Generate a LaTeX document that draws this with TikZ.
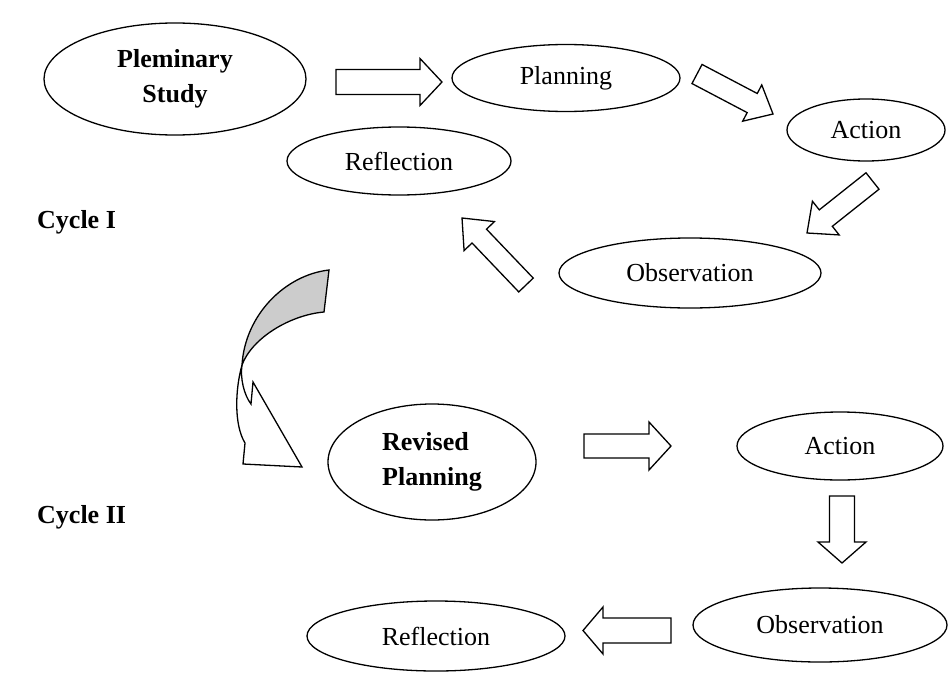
\documentclass[tikz,border=0pt]{standalone}
\usepackage{fontspec}
\setmainfont{Liberation Serif}
\usetikzlibrary{calc,shapes.geometric}
\tikzset{
  ell/.style={draw, line width=1.3pt, ellipse, inner sep=0pt, font=\fontsize{26}{35}\selectfont},
  barrow/.style={draw, line width=1.3pt, fill=white, line join=miter},
  lbl/.style={font=\fontsize{26}{35}\selectfont\bfseries, anchor=base west, inner sep=0pt}
}
% block arrow: tail, tip, half shaft width, half head width, head length (all in pt)
\newcommand\blockarr[5]{%
  \coordinate (nk) at ($(#2)!#5pt!(#1)$);
  \draw[barrow]
    ($(#1)!#3pt!90:(#2)$) --
    ($(nk)!#3pt!90:(#2)$) --
    ($(nk)!#4pt!90:(#2)$) --
    (#2) --
    ($(nk)!#4pt!-90:(#2)$) --
    ($(nk)!#3pt!-90:(#2)$) --
    ($(#1)!#3pt!-90:(#2)$) -- cycle;}
\begin{document}
\begin{tikzpicture}[x=1pt,y=-1pt]
\useasboundingbox (0,0) rectangle (949,677);

% ellipses
\node[ell, minimum width=262pt, minimum height=112pt, align=center, font=\fontsize{26}{35}\selectfont\bfseries] (ps) at (175,79) {Pleminary\\Study};
\node[ell, minimum width=228pt, minimum height=67pt] (pl) at (566,78) {Planning};
\node[ell, minimum width=158pt, minimum height=62pt] (ac1) at (866,130) {Action};
\node[ell, minimum width=224pt, minimum height=68pt] (re1) at (399,161) {Reflection};
\node[ell, minimum width=262pt, minimum height=70pt] (ob1) at (690,273) {Observation};
\node[ell, minimum width=208pt, minimum height=116pt, align=left, font=\fontsize{26}{35}\selectfont\bfseries] (rp) at (432,462) {Revised\\Planning};
\node[ell, minimum width=206pt, minimum height=68pt] (ac2) at (840,446) {Action};
\node[ell, minimum width=254pt, minimum height=74pt] (ob2) at (820,625) {Observation};
\node[ell, minimum width=258pt, minimum height=70pt] (re2) at (436,636) {Reflection};

% labels
\node[lbl] (c1) at (37,228) {Cycle I};
\node[lbl] (c2) at (37,523) {Cycle II};

% arrow end points
\coordinate (a1t) at (336,82);   \coordinate (a1h) at (442,82);
\coordinate (a2t) at (697,74);   \coordinate (a2h) at (773,114);
\coordinate (a3t) at (872.5,181); \coordinate (a3h) at (807,233);
\coordinate (a4t) at (526,285);  \coordinate (a4h) at (462,218);
\coordinate (a5t) at (584,446);  \coordinate (a5h) at (671,446);
\coordinate (a6t) at (842,496);  \coordinate (a6h) at (842,563);
\coordinate (a7t) at (671,630.5); \coordinate (a7h) at (583,630.5);

\blockarr{a1t}{a1h}{12.5}{23.5}{22}
\blockarr{a2t}{a2h}{10.8}{20.5}{23.5}
\blockarr{a3t}{a3h}{10.5}{21.5}{24}
\blockarr{a4t}{a4h}{10}{21}{25}
\blockarr{a5t}{a5h}{12}{24}{22}
\blockarr{a6t}{a6h}{12.5}{24}{21}
\blockarr{a7t}{a7h}{12.5}{23.5}{20}

% curved arrow between cycles
\draw[line width=1.3pt, fill=white, line join=miter]
  (242,365) .. controls (240,378) and (244,395) .. (251,404)
  -- (253,382) -- (302,467) -- (243,464) -- (245,443)
  .. controls (234,425) and (235,390) .. (242,365) -- cycle;
\draw[line width=1.3pt, fill=black!20, line join=miter]
  (329,270) .. controls (285,275) and (245,315) .. (242,365)
  .. controls (252,338) and (290,315) .. (324,312) -- cycle;
\end{tikzpicture}
\end{document}
